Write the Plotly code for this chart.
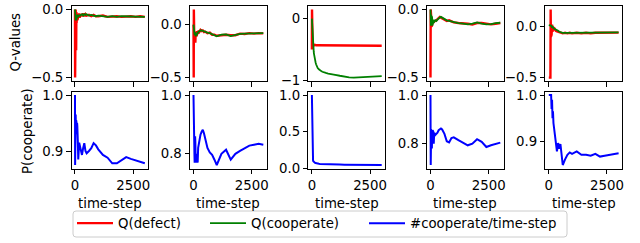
import plotly.graph_objects as go

# ---------------- data ----------------
time_step = [0, 5, 10, 15, 20, 25, 30, 40, 50, 60, 70, 80, 90, 100,
             120, 140, 160, 180, 200, 250, 300, 350, 400, 450, 500,
             600, 700, 800, 900, 1000, 1200, 1400, 1600, 1800, 2000,
             2200, 2400, 2600, 2800, 3000]

q_defect_1 = [0.0, -0.5, 0.0, -0.1, 0.0, -0.05, 0.0,
              -0.08, -0.3, -0.02, -0.1, -0.03, -0.08, -0.04,
              -0.07, -0.03, -0.06, -0.03, -0.06,
              -0.035, -0.05, -0.03, -0.05, -0.035, -0.045,
              -0.04, -0.05, -0.04, -0.05, -0.05,
              -0.045, -0.055, -0.05, -0.05, -0.055, -0.05, -0.05, -0.055, -0.05, -0.055]
q_coop_1 = [0.0, -0.02, -0.06, -0.01, -0.07, -0.03, -0.08,
            -0.04, -0.08, -0.05, -0.07, -0.04, -0.06, -0.05,
            -0.06, -0.04, -0.05, -0.04, -0.05,
            -0.04, -0.035, -0.045, -0.035, -0.04, -0.035,
            -0.045, -0.04, -0.045, -0.05, -0.045,
            -0.05, -0.055, -0.05, -0.055, -0.05, -0.05, -0.055, -0.05, -0.055, -0.055]

q_defect_2 = [0.0, -0.2, -0.5, 0.144, -0.05, -0.15, -0.08,
              -0.06, -0.13, -0.08, -0.12, -0.17, -0.1, -0.11,
              -0.07, -0.11, -0.06, -0.09, -0.06,
              -0.07, -0.05, -0.06, -0.055, -0.07, -0.065,
              -0.08, -0.075, -0.095, -0.095, -0.105,
              -0.1, -0.095, -0.1, -0.1, -0.085, -0.088, -0.08, -0.085, -0.08, -0.082]
q_coop_2 = [0.0, -0.01, -0.05, 0.0, -0.06, -0.02, -0.08,
            -0.05, -0.1, -0.07, -0.11, -0.09, -0.1, -0.11,
            -0.09, -0.1, -0.08, -0.08, -0.07,
            -0.06, -0.055, -0.055, -0.06, -0.065, -0.07,
            -0.075, -0.08, -0.09, -0.1, -0.11,
            -0.095, -0.093, -0.108, -0.095, -0.087, -0.085, -0.083, -0.082, -0.08, -0.08]

q_defect_3 = [-0.5, 0.15, -0.1, -0.3, -0.35, -0.4, -0.38,
              -0.42, -0.41, -0.43, -0.42, -0.43, -0.42, -0.43,
              -0.425, -0.43, -0.425, -0.43, -0.43,
              -0.43, -0.43, -0.43, -0.435, -0.43, -0.435,
              -0.435, -0.435, -0.435, -0.44, -0.44,
              -0.44, -0.44, -0.44, -0.44, -0.44, -0.44, -0.44, -0.44, -0.44, -0.44]
q_coop_3 = [0.0, -0.05, -0.1, -0.15, -0.2, -0.25, -0.28,
            -0.34, -0.4, -0.45, -0.5, -0.54, -0.57, -0.6,
            -0.64, -0.68, -0.71, -0.74, -0.76,
            -0.8, -0.82, -0.84, -0.85, -0.86, -0.87,
            -0.88, -0.89, -0.9, -0.905, -0.91,
            -0.925, -0.94, -0.95, -0.955, -0.955, -0.95, -0.945, -0.94, -0.935, -0.93]

q_defect_4 = [-0.5, -0.05, 0.0, -0.2, -0.05, -0.16, -0.06,
              -0.1, -0.13, -0.08, -0.12, -0.09, -0.1, -0.1,
              -0.085, -0.095, -0.09, -0.08, -0.085,
              -0.08, -0.07, -0.06, -0.055, -0.06, -0.065,
              -0.07, -0.085, -0.08, -0.09, -0.095,
              -0.1, -0.1, -0.105, -0.11, -0.1, -0.1, -0.105, -0.11, -0.105, -0.1]
q_coop_4 = [0.0, -0.1, -0.02, -0.12, -0.03, -0.11, -0.04,
            -0.12, -0.05, -0.11, -0.06, -0.12, -0.07, -0.11,
            -0.09, -0.1, -0.08, -0.085, -0.08,
            -0.085, -0.075, -0.065, -0.06, -0.055, -0.06,
            -0.075, -0.08, -0.085, -0.09, -0.09,
            -0.1, -0.105, -0.11, -0.105, -0.096, -0.105, -0.11, -0.108, -0.1, -0.098]

q_defect_5 = [-0.5, -0.5, -0.5, -0.5, -0.5, -0.5, -0.5,
              -0.5, -0.5, -0.5, -0.5, 0.17, -0.1, 0.05,
              -0.08, 0.02, -0.05, 0.0, -0.03,
              -0.02, -0.04, -0.045, -0.05, -0.055, -0.06,
              -0.065, -0.06, -0.065, -0.06, -0.065,
              -0.06, -0.065, -0.06, -0.065, -0.06, -0.06, -0.065, -0.06, -0.06, -0.058]
q_coop_5 = [0.015, 0.015, 0.015, 0.015, 0.015, 0.015, 0.015,
            0.015, 0.015, 0.012, 0.012, 0.01, 0.01, 0.01,
            0.0, 0.005, -0.01, -0.005, -0.015,
            -0.02, -0.025, -0.035, -0.04, -0.05, -0.055,
            -0.06, -0.06, -0.06, -0.06, -0.06,
            -0.06, -0.06, -0.06, -0.06, -0.06, -0.06, -0.06, -0.058, -0.057, -0.056]

p_coop_1 = [1.0, 0.875, 1.0, 0.97, 0.96, 0.95, 0.965,
            0.94, 0.955, 0.945, 0.95, 0.93, 0.95, 0.945,
            0.92, 0.885, 0.9, 0.915, 0.91,
            0.9, 0.893, 0.905, 0.914, 0.9, 0.896,
            0.9, 0.905, 0.914, 0.91, 0.903,
            0.893, 0.888, 0.878, 0.878, 0.883, 0.889, 0.886, 0.883, 0.881, 0.878]
p_coop_2 = [1.0, 0.9, 0.95, 0.87, 0.9, 0.86, 0.88,
            0.8, 0.77, 0.82, 0.86, 0.84, 0.8, 0.78,
            0.77, 0.8, 0.78, 0.77, 0.82,
            0.85, 0.865, 0.875, 0.882, 0.87, 0.85,
            0.82, 0.805, 0.797, 0.78, 0.762,
            0.8, 0.814, 0.78, 0.8, 0.81, 0.82, 0.828, 0.831, 0.834, 0.831]
p_coop_3 = [1.0, 0.8, 0.58, 0.4, 0.25, 0.18, 0.15,
            0.12, 0.11, 0.1, 0.095, 0.09, 0.088, 0.085,
            0.08, 0.076, 0.073, 0.07, 0.068,
            0.065, 0.063, 0.062, 0.061, 0.06, 0.059,
            0.058, 0.057, 0.056, 0.055, 0.054,
            0.053, 0.052, 0.051, 0.05, 0.05, 0.049, 0.048, 0.048, 0.047, 0.047]
p_coop_4 = [1.0, 0.9, 0.712, 0.8, 0.85, 0.78, 0.86,
            0.8, 0.85, 0.78, 0.83, 0.8, 0.855, 0.82,
            0.85, 0.8, 0.845, 0.84, 0.835,
            0.84, 0.845, 0.855, 0.86, 0.862, 0.858,
            0.84, 0.81, 0.805, 0.823, 0.826,
            0.814, 0.804, 0.793, 0.8, 0.818, 0.807, 0.786, 0.793, 0.8, 0.804]
p_coop_5 = [1.0, 1.0, 1.0, 1.0, 1.0, 1.0, 1.0,
            1.0, 1.0, 1.0, 1.0, 1.0, 1.0, 1.0,
            0.97, 0.99, 0.95, 0.965, 0.94,
            0.915, 0.9, 0.879, 0.897, 0.885, 0.895,
            0.85, 0.862, 0.872, 0.877, 0.874,
            0.879, 0.872, 0.872, 0.87, 0.874, 0.868, 0.87, 0.872, 0.873, 0.875]

q_ticks = [[-0.5, 0.0], [-0.5, 0.0], [-1, 0], [-0.5, 0.0], [-0.5, 0.0]]
q_ticklabels = [["−0.5", "0.0"], ["−0.5", "0.0"], ["−1", "0"], ["−0.5", "0.0"], ["−0.5", "0.0"]]
p_ticks = [[0.9, 1.0], [0.8, 1.0], [0.0, 0.5, 1.0], [0.8, 1.0], [0.9, 1.0]]
p_ticklabels = [["0.9", "1.0"], ["0.8", "1.0"], ["0.0", "0.5", "1.0"], ["0.8", "1.0"], ["0.9", "1.0"]]
x_ticks = [0, 2500]
x_ticklabels = ["0", "2500"]

q_defect = [q_defect_1, q_defect_2, q_defect_3, q_defect_4, q_defect_5]
q_coop = [q_coop_1, q_coop_2, q_coop_3, q_coop_4, q_coop_5]
p_coop = [p_coop_1, p_coop_2, p_coop_3, p_coop_4, p_coop_5]

# ---------------- layout geometry ----------------
W, H = 640, 243
FONT = "DejaVu Sans"
FS = 13.3
col_left = [71.5, 190.0, 308.4, 427.0, 545.3]
col_w = 76.8
top_row = (6.0, 81.0)
bot_row = (91.5, 168.5)
legend_box = (73, 211, 567, 237)          # left, top, right, bottom (px)
legend_item_x = [77, 210, 369]            # where each legend line starts (px)
legend_cy = 223.5


def pad_range(vals, frac=0.05):
    lo, hi = min(vals), max(vals)
    d = hi - lo
    return [lo - frac * d, hi + frac * d]


xr = pad_range(time_step)

fig = go.Figure()
axis_common = dict(showgrid=False, zeroline=False, showline=True, mirror=True,
                   linecolor="black", linewidth=1, ticks="outside", ticklen=4.5,
                   tickwidth=1, tickcolor="black", automargin=False,
                   tickfont=dict(family=FONT, size=FS, color="black"))

layout = {}
for i in range(5):
    nt = i + 1
    nb = i + 6
    xd = [col_left[i] / W, (col_left[i] + col_w) / W]
    fig.add_trace(go.Scatter(x=time_step, y=q_defect[i], mode="lines",
                             line=dict(color="red", width=2.4), name="Q(defect)",
                             legend="legend", showlegend=(i == 0),
                             xaxis=f"x{nt}", yaxis=f"y{nt}"))
    fig.add_trace(go.Scatter(x=time_step, y=q_coop[i], mode="lines",
                             line=dict(color="green", width=1.8), name="Q(cooperate)",
                             legend="legend2", showlegend=(i == 0),
                             xaxis=f"x{nt}", yaxis=f"y{nt}"))
    fig.add_trace(go.Scatter(x=time_step, y=p_coop[i], mode="lines",
                             line=dict(color="blue", width=2), name="#cooperate/time-step",
                             legend="legend3", showlegend=(i == 0),
                             xaxis=f"x{nb}", yaxis=f"y{nb}"))

    layout[f"xaxis{nt}"] = dict(axis_common, domain=xd, anchor=f"y{nt}", range=xr,
                                tickvals=x_ticks, showticklabels=False)
    layout[f"yaxis{nt}"] = dict(axis_common, domain=[(H - top_row[1]) / H, (H - top_row[0]) / H],
                                anchor=f"x{nt}", range=pad_range(q_defect[i] + q_coop[i]),
                                tickvals=q_ticks[i], ticktext=q_ticklabels[i])
    layout[f"xaxis{nb}"] = dict(axis_common, domain=xd, anchor=f"y{nb}", range=xr,
                                tickvals=x_ticks, ticktext=x_ticklabels)
    layout[f"yaxis{nb}"] = dict(axis_common, domain=[(H - bot_row[1]) / H, (H - bot_row[0]) / H],
                                anchor=f"x{nb}", range=pad_range(p_coop[i]),
                                tickvals=p_ticks[i], ticktext=p_ticklabels[i])

annotations = []
for i in range(5):
    annotations.append(dict(text="time-step", x=(col_left[i] + col_w / 2) / W, y=(H - 203) / H,
                            xref="paper", yref="paper", showarrow=False,
                            xanchor="center", yanchor="middle",
                            font=dict(family=FONT, size=FS, color="black")))
annotations.append(dict(text="Q-values", x=14.5 / W, y=(H - 42) / H, xref="paper", yref="paper",
                        showarrow=False, textangle=-90, xanchor="center", yanchor="middle",
                        font=dict(family=FONT, size=FS, color="black")))
annotations.append(dict(text="P(cooperate)", x=27 / W, y=(H - 131) / H, xref="paper", yref="paper",
                        showarrow=False, textangle=-90, xanchor="center", yanchor="middle",
                        font=dict(family=FONT, size=FS, color="black")))

# rounded legend frame
L, T, R, B = legend_box
r = 3


def px(x):
    return x / W


def py(y):
    return (H - y) / H


frame_path = (f"M {px(L + r)},{py(T)} L {px(R - r)},{py(T)} Q {px(R)},{py(T)} {px(R)},{py(T + r)} "
              f"L {px(R)},{py(B - r)} Q {px(R)},{py(B)} {px(R - r)},{py(B)} "
              f"L {px(L + r)},{py(B)} Q {px(L)},{py(B)} {px(L)},{py(B - r)} "
              f"L {px(L)},{py(T + r)} Q {px(L)},{py(T)} {px(L + r)},{py(T)} Z")

legend_common = dict(orientation="h", xanchor="left", yanchor="middle", y=py(legend_cy),
                     borderwidth=0, bgcolor="rgba(0,0,0,0)", itemwidth=36,
                     font=dict(family=FONT, size=FS, color="black"))

fig.update_layout(**layout)
fig.update_layout(
    width=W, height=H, margin=dict(l=0, r=0, t=0, b=0),
    paper_bgcolor="white", plot_bgcolor="white",
    annotations=annotations,
    shapes=[dict(type="path", path=frame_path, xref="paper", yref="paper",
                 line=dict(color="#cccccc", width=1), fillcolor="white", layer="below")],
    legend=dict(legend_common, x=px(legend_item_x[0] - 5)),
    legend2=dict(legend_common, x=px(legend_item_x[1] - 5)),
    legend3=dict(legend_common, x=px(legend_item_x[2] - 5)),
    font=dict(family=FONT, size=FS, color="black"),
)

fig.write_html("out.html", config={"displayModeBar": False},
               post_script="document.body.style.margin='0px';")
